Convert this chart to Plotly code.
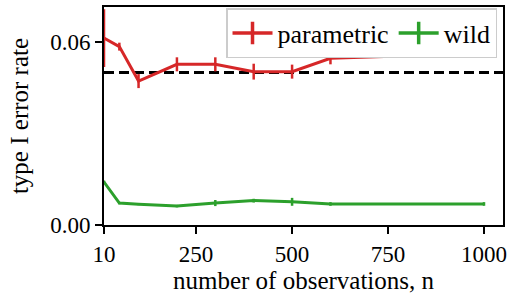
import plotly.graph_objects as go

n_obs = [10, 50, 100, 200, 300, 400, 500, 600, 1000]
parametric_rate = [0.0613, 0.0585, 0.0472, 0.0527, 0.0527, 0.0503, 0.0503, 0.0547, 0.0563]
parametric_err = [0.0095, 0.0013, 0.0023, 0.0023, 0.0023, 0.0026, 0.0023, 0.0020, 0.0007]
wild_rate = [0.0141, 0.0072, 0.0068, 0.0062, 0.0072, 0.0080, 0.0076, 0.0069, 0.0069]
wild_err = [0.0005, 0.0004, 0.0003, 0.0004, 0.0010, 0.0006, 0.0013, 0.0006, 0.0006]
alpha_level = 0.05
x_ticks = [10, 250, 500, 750, 1000]
y_ticks = [0.0, 0.06]
series_names = ["parametric", "wild"]

RED = "#d62728"
GREEN = "#2ca02c"
FONT = "Liberation Serif"

fig = go.Figure()

for name, y, e, c in [(series_names[0], parametric_rate, parametric_err, RED),
                      (series_names[1], wild_rate, wild_err, GREEN)]:
    fig.add_trace(go.Scatter(
        x=n_obs, y=y, mode="lines", name=name, showlegend=False,
        line=dict(color=c, width=3),
        error_y=dict(type="data", array=e, visible=True, color=c, thickness=2.5, width=0),
    ))

for name, c in [(series_names[0], RED), (series_names[1], GREEN)]:
    fig.add_trace(go.Scatter(
        x=[None], y=[None], mode="lines+markers", name=name,
        line=dict(color=c, width=3.5),
        marker=dict(symbol="line-ns", size=16, color=c, line=dict(color=c, width=3.5)),
    ))

fig.add_hline(y=alpha_level, line=dict(color="black", width=3, dash="10px,5px"), layer="below")

axis_common = dict(
    showline=True, linecolor="black", linewidth=2, mirror=True,
    ticks="outside", ticklen=7, tickwidth=1.5, tickcolor="black",
    showgrid=False, zeroline=False, automargin=False,
    tickfont=dict(family=FONT, size=23, color="black"),
)

fig.update_xaxes(range=[10, 1049.5], tickvals=x_ticks, ticktext=[str(v) for v in x_ticks],
                 title=dict(text="number of observations, n", font=dict(family=FONT, size=25, color="black"), standoff=0),
                 **axis_common)
fig.update_yaxes(range=[0, 0.0715], tickvals=y_ticks, ticktext=[f"{v:.2f}" for v in y_ticks],
                 title=dict(text="type I error rate", font=dict(family=FONT, size=25, color="black"), standoff=14),
                 **axis_common)

fig.update_layout(
    width=513, height=299,
    margin=dict(l=104, r=10, t=7, b=74),
    plot_bgcolor="white", paper_bgcolor="white",
    font=dict(family=FONT, color="black"),
    legend=dict(
        orientation="h", x=0.985, xanchor="right", y=0.995, yanchor="top",
        bgcolor="white", bordercolor="#cccccc", borderwidth=1.5,
        font=dict(family=FONT, size=26, color="black"),
        itemwidth=40, tracegroupgap=0,
    ),
)

fig.write_html("out.html", config={"displayModeBar": False},
               post_script="document.body.style.margin='0';document.body.style.overflow='hidden';")
